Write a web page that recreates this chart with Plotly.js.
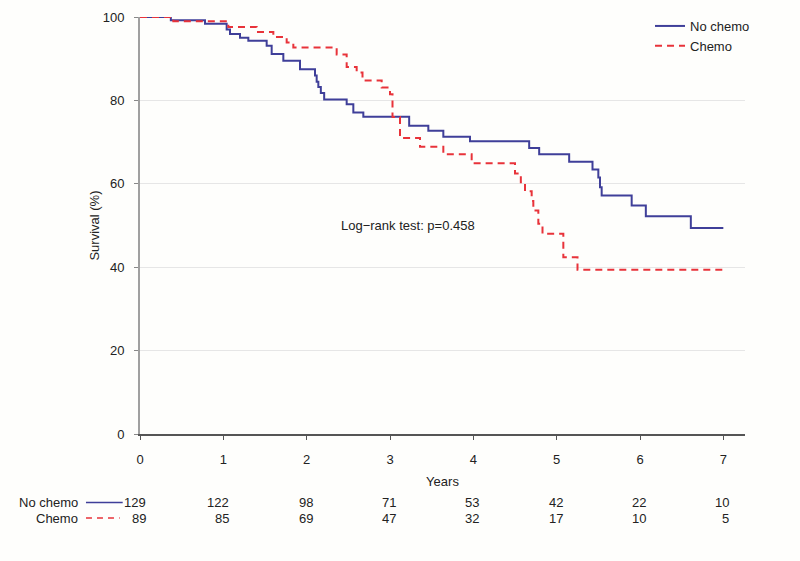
<!DOCTYPE html>
<html>
<head>
<meta charset="utf-8">
<script src="https://cdn.plot.ly/plotly-3.0.1.min.js"></script>
<style>html,body{margin:0;padding:0;background:#fefefc;}#chart{width:800px;height:561px;}</style>
</head>
<body>
<div id="chart"></div>
<script>
// Kaplan-Meier step data (years, survival %)
const noChemoTime = [0, 0.37, 0.78, 1.04, 1.08, 1.2, 1.3, 1.52, 1.58, 1.72, 1.92, 2.1, 2.12, 2.14, 2.17, 2.21, 2.48, 2.56, 2.68, 3.23, 3.46, 3.64, 3.96, 4.67, 4.79, 5.15, 5.43, 5.5, 5.52, 5.54, 5.9, 6.07, 6.61, 7.0];
const noChemoSurv = [100, 99.2, 98.4, 97.0, 95.9, 95.0, 94.3, 93.1, 91.1, 89.5, 87.5, 86.0, 84.5, 83.2, 81.8, 80.2, 79.1, 77.1, 76.1, 73.9, 72.7, 71.3, 70.2, 68.6, 67.1, 65.3, 63.4, 61.5, 59.2, 57.2, 54.8, 52.2, 49.4, 49.4];
const chemoTime = [0, 0.4, 1.06, 1.4, 1.6, 1.76, 1.84, 2.36, 2.48, 2.6, 2.67, 2.9, 3.0, 3.03, 3.12, 3.36, 3.64, 3.98, 4.5, 4.57, 4.62, 4.7, 4.72, 4.78, 4.83, 5.08, 5.25, 7.0];
const chemoSurv = [100, 99.0, 97.6, 96.4, 95.2, 93.9, 92.7, 91.0, 88.0, 86.7, 84.8, 83.1, 81.5, 76.0, 71.0, 68.9, 67.1, 64.9, 62.5, 60.4, 58.2, 55.9, 53.6, 50.4, 48.0, 42.4, 39.4, 39.4];

// Number at risk table
const riskTimes = [0, 1, 2, 3, 4, 5, 6, 7];
const noChemoRisk = [129, 122, 98, 71, 53, 42, 22, 10];
const chemoRisk = [89, 85, 69, 47, 32, 17, 10, 5];
const seriesNames = ["No chemo", "Chemo"];
const xTicks = [0, 1, 2, 3, 4, 5, 6, 7];
const yTicks = [0, 20, 40, 60, 80, 100];
const pValueText = "Log\u2212rank test: p=0.458";

const BLUE = "#3f3f99";
const RED = "#e8333a";
const FONT = "Liberation Sans, Arial, sans-serif";

const traces = [
  {x: noChemoTime, y: noChemoSurv, name: seriesNames[0], mode: "lines",
   line: {shape: "hv", color: BLUE, width: 2}, cliponaxis: false},
  {x: chemoTime, y: chemoSurv, name: seriesNames[1], mode: "lines",
   line: {shape: "hv", color: RED, width: 2, dash: "7px,5px"}, cliponaxis: false}
];

const annotations = [];
const rowY = [-0.1644, -0.2017];
[noChemoRisk, chemoRisk].forEach((arr, r) => {
  arr.forEach((v, i) => {
    annotations.push({xref: "x", yref: "paper", x: riskTimes[i], y: rowY[r],
      text: String(v), showarrow: false, xanchor: "right", yanchor: "middle", xshift: 8,
      font: {family: FONT, size: 13, color: "#222"}});
  });
  annotations.push({xref: "paper", yref: "paper", x: -0.0992, y: rowY[r],
    text: seriesNames[r], showarrow: false, xanchor: "right", yanchor: "middle",
    font: {family: FONT, size: 13, color: "#222"}});
});
annotations.push({xref: "x", yref: "y", x: 3.22, y: 50, text: pValueText, showarrow: false,
  font: {family: FONT, size: 13, color: "#222"}});

const shapes = [
  {type: "line", xref: "paper", yref: "paper", x0: -0.0893, x1: -0.0286, y0: rowY[0], y1: rowY[0],
   line: {color: BLUE, width: 1.5}},
  {type: "line", xref: "paper", yref: "paper", x0: -0.0893, x1: -0.0336, y0: rowY[1], y1: rowY[1],
   line: {color: RED, width: 1.5, dash: "6px,5px"}}
];

const layout = {
  width: 800, height: 561,
  margin: {l: 140, r: 55, t: 16, b: 127},
  paper_bgcolor: "#fefefc", plot_bgcolor: "#fefefc",
  font: {family: FONT, size: 13, color: "#222"},
  showlegend: true,
  legend: {x: 0.843, y: 1.012, xanchor: "left", yanchor: "top", bgcolor: "#fefefc",
           font: {family: FONT, size: 13, color: "#222"}, tracegroupgap: 0},
  xaxis: {range: [0, 7.26], tickvals: xTicks, ticktext: xTicks.map(String),
          showgrid: false, zeroline: false, showline: true, linecolor: "#555", linewidth: 1.5,
          ticks: "outside", ticklen: 4, tickcolor: "#555", ticklabelstandoff: 9,
          title: {text: "Years", font: {family: FONT, size: 13, color: "#222"}, standoff: 11},
          fixedrange: true},
  yaxis: {range: [0, 100], tickvals: yTicks, ticktext: yTicks.map(String),
          showgrid: true, gridcolor: "#e6e6e6", gridwidth: 1, zeroline: false,
          showline: true, linecolor: "#a0a0a0", linewidth: 2,
          ticks: "outside", ticklen: 4, tickcolor: "#888", ticklabelstandoff: 7,
          title: {text: "Survival (%)", font: {family: FONT, size: 13, color: "#222"}, standoff: 0},
          fixedrange: true},
  annotations: annotations,
  shapes: shapes
};

Plotly.newPlot("chart", traces, layout, {displayModeBar: false, staticPlot: true});
</script>
</body>
</html>
